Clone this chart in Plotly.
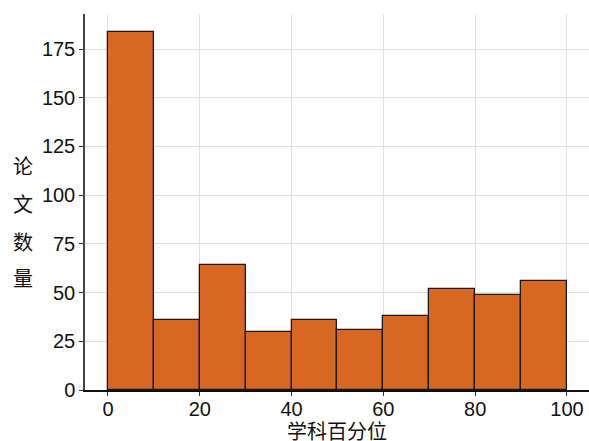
import plotly.graph_objects as go

bin_centers = [5, 15, 25, 35, 45, 55, 65, 75, 85, 95]
counts = [184, 36, 64, 30, 36, 31, 38, 52, 49, 56]
x_ticks = [0, 20, 40, 60, 80, 100]
y_ticks = [0, 25, 50, 75, 100, 125, 150, 175]
y_title_chars = ["论", "文", "数", "量"]
x_title = "学科百分位"

fig = go.Figure()
fig.add_trace(go.Bar(
    x=bin_centers, y=counts, width=10,
    marker=dict(color="#D86821", line=dict(color="#1a1a1a", width=1.3)),
))

num_font = dict(family="Liberation Sans, Arial, sans-serif", size=20, color="#111111")
cjk = "Noto Sans CJK SC, sans-serif"

fig.update_layout(
    width=589, height=441,
    margin=dict(l=85, r=0, t=14, b=51, autoexpand=False),
    paper_bgcolor="white", plot_bgcolor="white",
    showlegend=False,
    bargap=0,
    xaxis=dict(
        range=[-5, 104.8], tickvals=x_ticks, ticks="outside", ticklen=4,
        tickcolor="#333333", tickfont=num_font, automargin=False,
        ticklabelstandoff=-4,
        showgrid=True, gridcolor="#e0e0e0", gridwidth=1,
        showline=True, linecolor="#111111", linewidth=1.5, zeroline=False,
    ),
    yaxis=dict(
        range=[0, 193], tickvals=y_ticks, ticks="outside", ticklen=4,
        tickcolor="#333333", tickfont=num_font, automargin=False,
        showgrid=True, gridcolor="#e0e0e0", gridwidth=1,
        showline=True, linecolor="#444444", linewidth=1.5, zeroline=False,
    ),
)

fig.add_annotation(text=x_title, xref="paper", yref="paper", x=0.5, y=-0.107,
                   xanchor="center", yanchor="middle", showarrow=False,
                   font=dict(family=cjk, size=20, color="#111111"))

ypos = [0.598, 0.497, 0.394, 0.298]
for ch, yp in zip(y_title_chars, ypos):
    fig.add_annotation(text=ch, xref="paper", yref="paper", x=-0.123, y=yp,
                       xanchor="center", yanchor="middle", showarrow=False,
                       font=dict(family=cjk, size=20, color="#111111"))

fig.write_html("out.html", config={"displayModeBar": False},
               post_script="document.body.style.margin='0';")
